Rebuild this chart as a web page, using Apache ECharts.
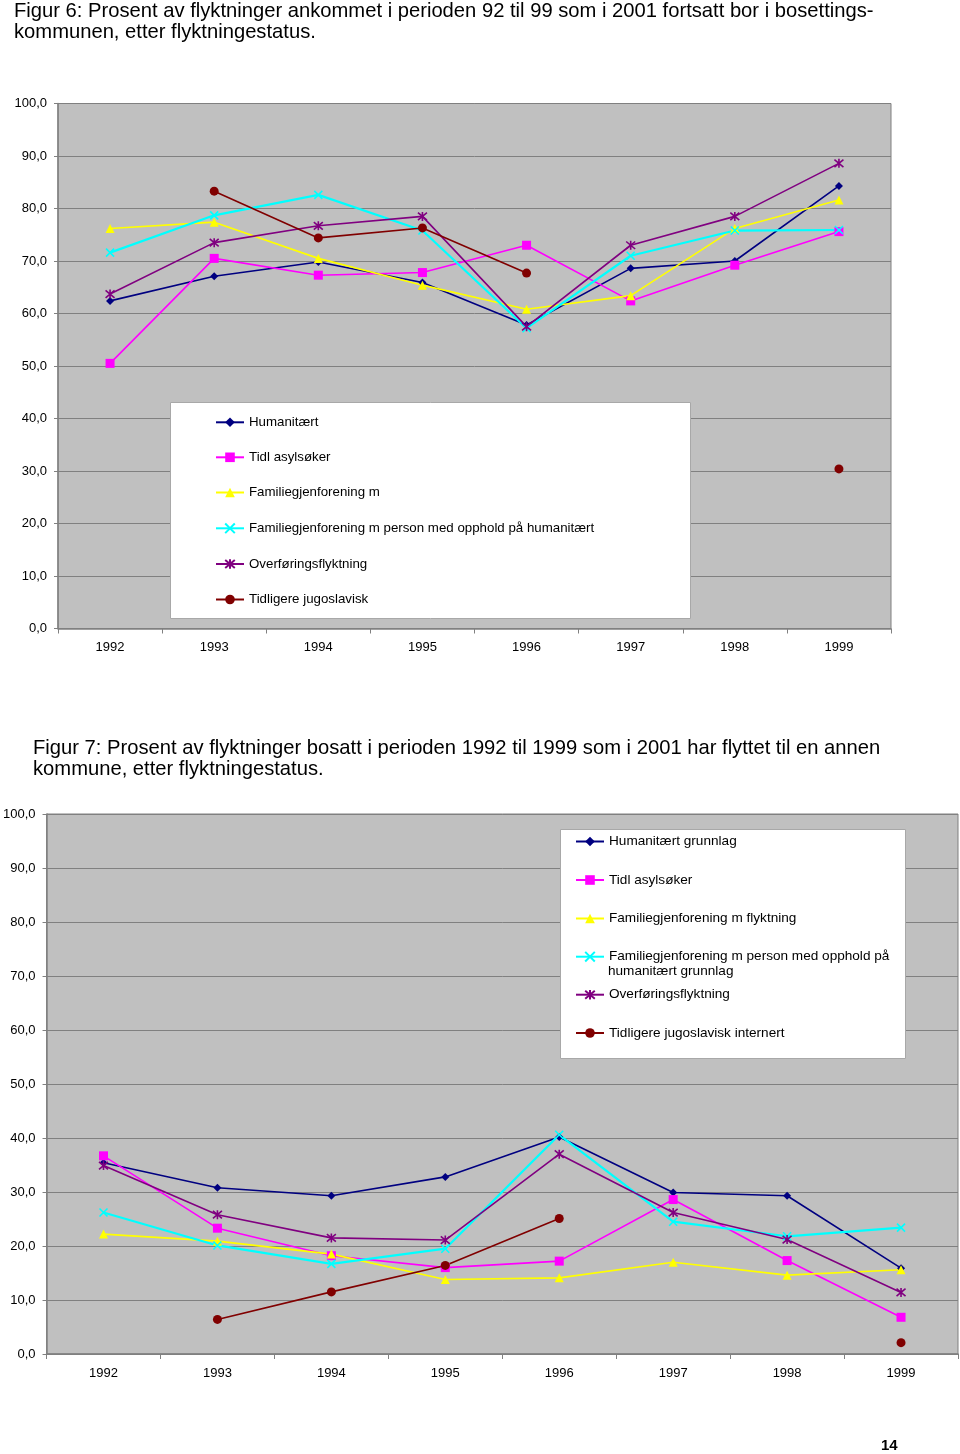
<!DOCTYPE html>
<html>
<head>
<meta charset="utf-8">
<script src="https://cdn.jsdelivr.net/npm/echarts@6/dist/echarts.min.js"></script>
<style>
html,body{margin:0;padding:0;background:#fff;}
#chart{width:960px;height:1454px;}
</style>
</head>
<body>
<div id="chart"></div>
<script>
// ---------- DATA ----------
const years = ['1992', '1993', '1994', '1995', '1996', '1997', '1998', '1999'];
const seriesNames = [
  'Humanitært grunnlag',
  'Tidl asylsøker',
  'Familiegjenforening m flyktning',
  'Familiegjenforening m person med opphold på humanitært grunnlag',
  'Overføringsflyktning',
  'Tidligere jugoslavisk internert'
];
// legend texts as shown (truncated) in figure 6
const fig6LegendText = [
  'Humanitært',
  'Tidl asylsøker',
  'Familiegjenforening m',
  'Familiegjenforening m person med opphold på humanitært',
  'Overføringsflyktning',
  'Tidligere jugoslavisk'
];
// legend texts in figure 7
const fig7LegendText = [
  'Humanitært grunnlag',
  'Tidl asylsøker',
  'Familiegjenforening m flyktning',
  'Familiegjenforening m person med opphold på',
  'Overføringsflyktning',
  'Tidligere jugoslavisk internert'
];
const fig7LegendExtraLine = 'humanitært grunnlag';

// Figure 6 values (%)
const hum6    = [62.4, 67.1, 69.8, 65.9, 57.8, 68.6, 70.0, 84.3];
const asyl6   = [50.5, 70.5, 67.3, 67.8, 73.0, 62.4, 69.2, 75.6];
const famFly6 = [76.2, 77.4, 70.5, 65.4, 60.8, 63.4, 76.2, 81.6];
const famHum6 = [71.6, 78.7, 82.6, 75.8, 57.2, 71.0, 75.8, 75.9];
const over6   = [63.7, 73.5, 76.7, 78.5, 57.5, 73.0, 78.5, 88.6];
const jugo6   = [null, 83.3, 74.4, 76.3, 67.7, null, null, 30.4];

// Figure 7 values (%)
const hum7    = [35.4, 30.8, 29.3, 32.8, 40.2, 29.9, 29.3, 15.9];
const asyl7   = [36.7, 23.3, 18.2, 16.0, 17.2, 28.6, 17.3, 6.8];
const famFly7 = [22.2, 20.9, 18.5, 13.8, 14.1, 17.0, 14.6, 15.6];
const famHum7 = [26.2, 20.1, 16.7, 19.5, 40.6, 24.5, 21.8, 23.4];
const over7   = [34.9, 25.8, 21.5, 21.1, 37.0, 26.2, 21.2, 11.4];
const jugo7   = [null, 6.4, 11.5, 16.4, 25.1, null, null, 2.1];

const title6 = ['Figur 6: Prosent av flyktninger ankommet i perioden 92 til 99 som i 2001 fortsatt bor i bosettings-',
                'kommunen, etter flyktningestatus.'];
const title7 = ['Figur 7: Prosent av flyktninger bosatt i perioden 1992 til 1999 som i 2001 har flyttet til en annen',
                'kommune, etter flyktningestatus.'];
const pageNumber = '14';

// ---------- STYLE ----------
const FONT = '"Liberation Sans", Arial, sans-serif';
const styles = [
  {color: '#000080', symbol: 'diamond', size: 8, width: 1.6},
  {color: '#FF00FF', symbol: 'rect', size: 9, width: 1.6},
  {color: '#FFFF00', symbol: 'triangle', size: 9, width: 1.6},
  {color: '#00FFFF', symbol: 'path://M0,0L10,10M10,0L0,10', size: 8, width: 2.2, stroke: true},
  {color: '#800080', symbol: 'path://M0,0L10,10M10,0L0,10M5,-1L5,11', size: 9, width: 1.6, stroke: true},
  {color: '#800000', symbol: 'circle', size: 9, width: 1.6}
];

function makeSeries(idx, arrays) {
  return arrays.map((d, i) => {
    const s = styles[i];
    const itemStyle = {color: s.color};
    if (s.stroke) { itemStyle.borderColor = s.color; itemStyle.borderWidth = 1.6; }
    return {
      type: 'line',
      name: seriesNames[i],
      xAxisIndex: idx,
      yAxisIndex: idx,
      data: d,
      symbol: s.symbol,
      symbolSize: s.size,
      showSymbol: true,
      showAllSymbol: true,
      connectNulls: false,
      animation: false,
      lineStyle: {color: s.color, width: s.width},
      itemStyle: itemStyle,
      z: 3
    };
  });
}

function xAxisCfg(idx, margin) {
  return {
    type: 'category', gridIndex: idx, data: years, boundaryGap: true,
    axisLine: {show: true, lineStyle: {color: '#808080', width: 1.5}},
    axisTick: {show: true, length: 5, lineStyle: {color: '#808080'}},
    axisLabel: {color: '#000', fontSize: 13, fontFamily: FONT, margin: margin},
    splitLine: {show: false}
  };
}
function yAxisCfg(idx) {
  return {
    type: 'value', gridIndex: idx, min: 0, max: 100, interval: 10,
    axisLine: {show: true, lineStyle: {color: '#808080', width: 1.5}},
    axisTick: {show: true, length: 4, lineStyle: {color: '#808080'}},
    axisLabel: {color: '#000', fontSize: 13, fontFamily: FONT, margin: 11,
      formatter: v => v.toFixed(1).replace('.', ',')},
    splitLine: {show: true, lineStyle: {color: '#808080', width: 1}}
  };
}

const fig6Rows = [422.3, 457.3, 492.5, 528.3, 564, 599.5];
const fig7Rows = [841.5, 880, 918.5, 956.7, 994.7, 1033];

function makeLegends(rows, texts, left, fontSize) {
  return rows.map((cy, i) => ({
    data: [seriesNames[i]],
    left: left, top: cy - 7,
    orient: 'vertical', padding: 0,
    itemWidth: 28, itemHeight: 12, itemGap: 0,
    selectedMode: false,
    formatter: () => texts[i],
    textStyle: {color: '#000', fontSize: fontSize, fontFamily: FONT, lineHeight: 14},
    z: 10
  }));
}

function textEl(t, x, y, size, bold) {
  return {
    type: 'text', x: x, y: y, z: 20,
    style: {text: t, fill: '#000', font: (bold ? 'bold ' : '') + size + 'px ' + FONT,
      verticalAlign: 'middle', textVerticalAlign: 'middle'}
  };
}

const option = {
  backgroundColor: '#ffffff',
  animation: false,
  grid: [
    {left: 58, top: 103.5, width: 833, height: 525, show: true,
     backgroundColor: '#C0C0C0', borderColor: '#808080', borderWidth: 1, containLabel: false},
    {left: 44, top: 814, width: 914, height: 540, show: true,
     backgroundColor: '#C0C0C0', borderColor: '#808080', borderWidth: 1, containLabel: false}
  ],
  xAxis: [xAxisCfg(0, 12), xAxisCfg(1, 13)],
  yAxis: [yAxisCfg(0), yAxisCfg(1)],
  legend: makeLegends(fig6Rows, fig6LegendText, 215, 13.3).concat(makeLegends(fig7Rows, fig7LegendText, 575, 13.6)),
  series: makeSeries(0, [hum6, asyl6, famFly6, famHum6, over6, jugo6])
    .concat(makeSeries(1, [hum7, asyl7, famFly7, famHum7, over7, jugo7])),
  graphic: [
    {type: 'rect', shape: {x: 170.5, y: 402.5, width: 520, height: 216}, z: 5,
     style: {fill: '#ffffff', stroke: '#a8a8a8', lineWidth: 1}},
    {type: 'rect', shape: {x: 560.5, y: 829.5, width: 345, height: 229}, z: 5,
     style: {fill: '#ffffff', stroke: '#a8a8a8', lineWidth: 1}},
    textEl(title6[0], 14, 11, 20.2),
    textEl(title6[1], 14, 32, 20.2),
    textEl(title7[0], 33, 748, 20.2),
    textEl(title7[1], 33, 769, 20.2),
    textEl(fig7LegendExtraLine, 608, 971.3, 13.6),
    textEl(pageNumber, 881, 1446, 15, true)
  ]
};

const chart = echarts.init(document.getElementById('chart'), null, {renderer: 'canvas'});
chart.setOption(option);
</script>
</body>
</html>
